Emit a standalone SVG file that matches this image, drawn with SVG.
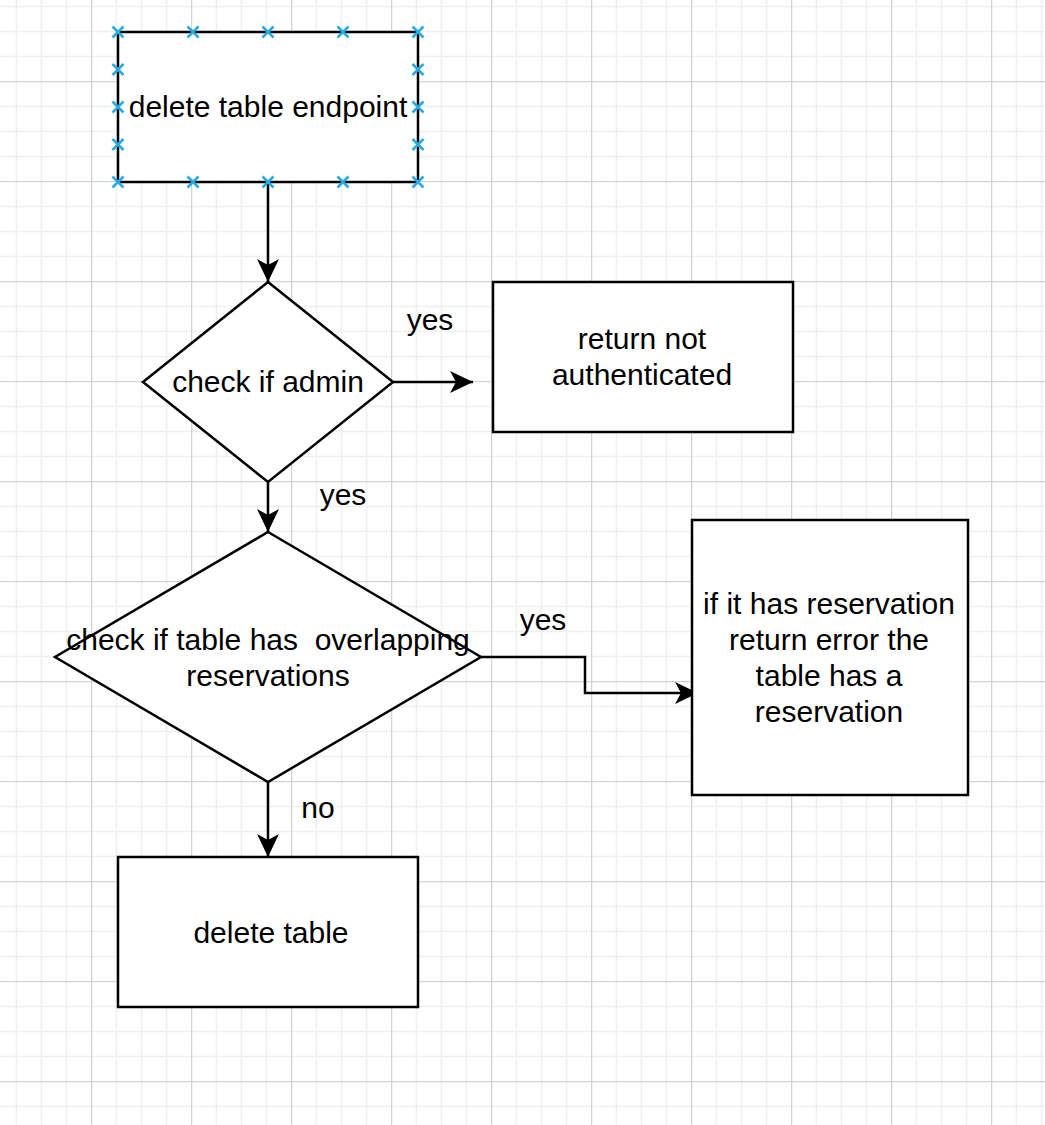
<svg xmlns="http://www.w3.org/2000/svg" width="1045" height="1125" viewBox="0 0 1045 1125">
<defs>
<pattern id="grid" x="91" y="81" width="100" height="100" patternUnits="userSpaceOnUse">
<path d="M25.5,0V100M50.5,0V100M75.5,0V100M0,25.5H100M0,50.5H100M0,75.5H100" stroke="#f0f0f0" stroke-width="1.5" fill="none"/>
<path d="M0.5,0V100M0,0.5H100" stroke="#d3d3d3" stroke-width="1.5" fill="none"/>
</pattern>
<marker id="arr" markerUnits="userSpaceOnUse" viewBox="0 0 24 24" refX="23" refY="12" markerWidth="24" markerHeight="24" orient="auto">
<path d="M0,1 L23,12 L0,23 L6,12 Z" fill="#000"/>
</marker>
<g id="xm"><path d="M-5.5,-5.5L5.5,5.5M-5.5,5.5L5.5,-5.5" stroke="#29abe2" stroke-width="2.6" fill="none"/></g>
</defs>
<style>
.shape{fill:#fff;stroke:#000;stroke-width:2.5}
.edge{fill:none;stroke:#000;stroke-width:2.5}
.t{font-family:"Liberation Sans",Arial,sans-serif;font-size:30px;fill:#000;text-anchor:middle}
</style>
<rect width="1045" height="1125" fill="#fff"/>
<rect width="1045" height="1125" fill="url(#grid)"/>

<g id="connectors">
<path class="edge" d="M268,182V282" marker-end="url(#arr)"/>
<path class="edge" d="M393,382H473" marker-end="url(#arr)"/>
<path class="edge" d="M268,482V532" marker-end="url(#arr)"/>
<path class="edge" d="M481,657H585V693H698" marker-end="url(#arr)"/>
<path class="edge" d="M268,782V857" marker-end="url(#arr)"/>
<text class="t" x="430" y="330">yes</text>
<text class="t" x="343" y="505">yes</text>
<text class="t" x="543" y="630">yes</text>
<text class="t" x="318" y="818">no</text>
</g>

<g id="start">
<rect class="shape" x="118" y="32" width="300" height="150"/>
<text class="t" x="268" y="117">delete table endpoint</text>
<use href="#xm" x="118" y="32"/><use href="#xm" x="193" y="32"/><use href="#xm" x="268" y="32"/><use href="#xm" x="343" y="32"/><use href="#xm" x="418" y="32"/>
<use href="#xm" x="118" y="182"/><use href="#xm" x="193" y="182"/><use href="#xm" x="268" y="182"/><use href="#xm" x="343" y="182"/><use href="#xm" x="418" y="182"/>
<use href="#xm" x="118" y="69.5"/><use href="#xm" x="118" y="107"/><use href="#xm" x="118" y="144.5"/>
<use href="#xm" x="418" y="69.5"/><use href="#xm" x="418" y="107"/><use href="#xm" x="418" y="144.5"/>
</g>

<g id="admin">
<path class="shape" d="M268,282L393,382L268,482L143,382Z"/>
<text class="t" x="268" y="392">check if admin</text>
</g>

<g id="notauth">
<rect class="shape" x="493" y="282" width="300" height="150"/>
<text class="t" x="642" y="349">return not</text>
<text class="t" x="642" y="385">authenticated</text>
</g>

<g id="overlap">
<path class="shape" d="M268,532L481,657L268,782L55,657Z"/>
<text class="t" x="268" y="650" xml:space="preserve">check if table has  overlapping</text>
<text class="t" x="268" y="686">reservations</text>
</g>

<g id="error">
<rect class="shape" x="692" y="520" width="276" height="275"/>
<text class="t" x="829" y="614">if it has reservation</text>
<text class="t" x="829" y="650">return error the</text>
<text class="t" x="829" y="686">table has a</text>
<text class="t" x="829" y="722">reservation</text>
</g>

<g id="delete">
<rect class="shape" x="118" y="857" width="300" height="150"/>
<text class="t" x="271" y="943">delete table</text>
</g>
</svg>
